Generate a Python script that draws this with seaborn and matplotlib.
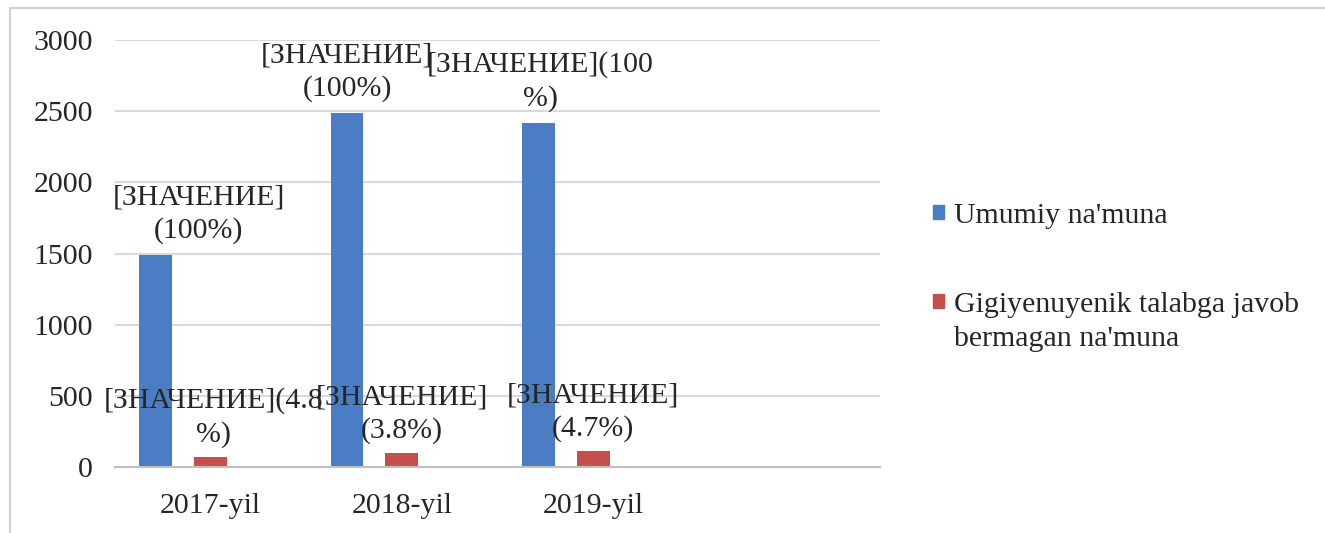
import numpy as np
import pandas as pd
import seaborn as sns
import matplotlib.pyplot as plt
from matplotlib.patches import Rectangle, Patch

# ---- data ----
years = ["2017-yil", "2018-yil", "2019-yil"]
empty_category = [""]
series_total = "Umumiy na'muna"
series_failed = "Gigiyenuyenik talabga javob\nbermagan na'muna"
total_samples = [1490, 2490, 2420]
failed_samples = [72, 95, 114]
total_labels = ["[ЗНАЧЕНИЕ]\n(100%)", "[ЗНАЧЕНИЕ]\n(100%)", "[ЗНАЧЕНИЕ](100\n%)"]
failed_labels = ["[ЗНАЧЕНИЕ](4.8\n%)", "[ЗНАЧЕНИЕ]\n(3.8%)", "[ЗНАЧЕНИЕ]\n(4.7%)"]
y_ticks = [0, 500, 1000, 1500, 2000, 2500, 3000]

# ---- style ----
sns.set_theme(style="white")
plt.rcParams['font.family'] = ['Liberation Serif', 'DejaVu Serif']
BLUE = "#4A7DC4"
RED = "#C4504D"
TXT = "#262626"
FS = 21.5

pad_series = "_pad"
df = pd.DataFrame({
    "year": years * 3,
    "series": [series_total] * 3 + [series_failed] * 3 + [pad_series] * 3,
    "count": total_samples + failed_samples + [0] * 3,
})

W, H = 1325, 533
fig = plt.figure(figsize=(W / 100, H / 100), dpi=100)
ax = fig.add_axes([115 / W, 1 - 467 / H, 765 / W, 427 / H])

sns.barplot(data=df, x="year", y="count", hue="series",
            order=years + empty_category,
            hue_order=[series_total, series_failed, pad_series],
            palette={series_total: BLUE, series_failed: RED, pad_series: "white"},
            width=0.86, gap=0.4, errorbar=None, legend=False,
            saturation=1, linewidth=0, ax=ax)

ax.set_xlim(-0.5, 3.5)
ax.set_ylim(0, 3000)
ax.set_yticks(y_ticks)
ax.set_yticklabels([str(v) for v in y_ticks], fontsize=FS, color=TXT)
ax.set_xticks(range(4))
ax.set_xticklabels(years + empty_category, fontsize=FS, color=TXT)
ax.set_xticks(np.arange(-0.5, 4.0, 1.0), minor=True)
ax.tick_params(axis="y", length=0, pad=16)
ax.tick_params(axis="x", which="major", length=0, pad=19)
ax.tick_params(axis="x", which="minor", length=6, width=1.2, color="#BFBFBF", direction="out")
ax.set_xlabel("")
ax.set_ylabel("")
ax.yaxis.grid(True, color="#D9D9D9", lw=1.5)
ax.set_axisbelow(True)
for s in ["left", "right", "top"]:
    ax.spines[s].set_visible(False)
ax.spines["bottom"].set_color("#BFBFBF")
ax.spines["bottom"].set_linewidth(1.5)

# ---- data labels ----
blue_dx = [43, 0, 2]
red_dx = [3, 0, 0]
for bars, labels, dxs, dy in [(ax.containers[0], total_labels, blue_dx, 11),
                              (ax.containers[1], failed_labels, red_dx, 9)]:
    for bar, lab, dx in zip(bars, labels, dxs):
        ax.annotate(lab, xy=(bar.get_x() + bar.get_width() / 2, bar.get_height()),
                    xytext=(dx, dy), textcoords="offset pixels",
                    ha="center", va="bottom", multialignment="center",
                    fontsize=FS, color=TXT, linespacing=1.32)

# ---- legend (marker aligned with first line of each entry) ----
first_lines = [series_total, series_failed.split("\n")[0]]
extra_line = series_failed.split("\n")[1]
leg_kw = dict(loc="center left", frameon=False, fontsize=FS, borderpad=0,
              borderaxespad=0, handlelength=0.36, handleheight=0.36,
              handletextpad=0.36, labelcolor=TXT)
leg1 = fig.legend([Patch(color=BLUE)], [first_lines[0]],
                  bbox_to_anchor=(933 / W, 1 - 216 / H), **leg_kw)
leg2 = fig.legend([Patch(color=RED)], [first_lines[1]],
                  bbox_to_anchor=(933 / W, 1 - 305 / H), **leg_kw)
fig.canvas.draw()
tx0 = leg2.get_texts()[0].get_window_extent().x0
fig.text(tx0 / W, 1 - 339 / H, extra_line, fontsize=FS, color=TXT,
         ha="left", va="center")

# ---- outer frame ----
fig.patches.append(Rectangle((10 / W, -0.05), 1.2, 1 - 8 / H + 0.05,
                             transform=fig.transFigure, fill=False,
                             edgecolor="#D0D0D0", lw=1.5))

fig.savefig("out.png", dpi=100)
